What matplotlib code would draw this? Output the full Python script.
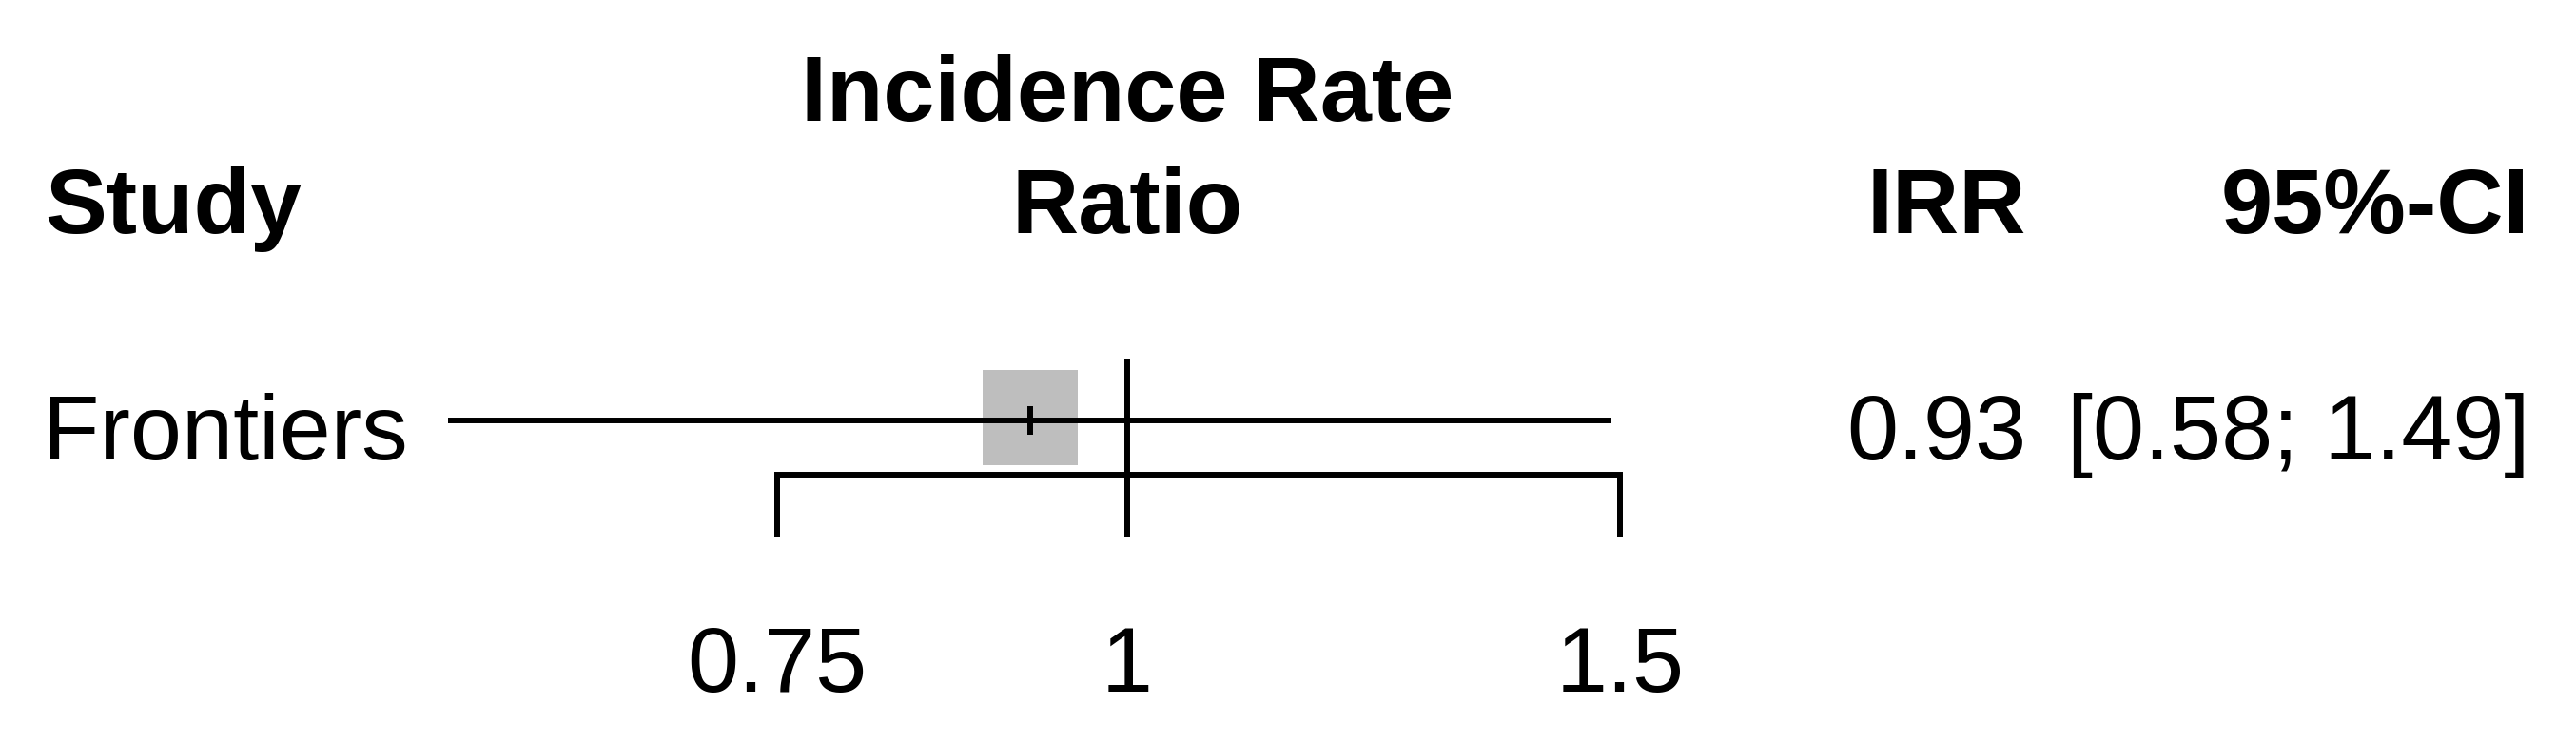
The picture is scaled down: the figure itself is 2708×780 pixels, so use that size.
import numpy as np
import matplotlib
matplotlib.use("Agg")
import matplotlib.pyplot as plt

# donnees
studies = ["Frontiers"]
irr = [0.923]
ci_lower = [0.572]
ci_upper = [1.489]
irr_text = ["0.93"]
ci_text = ["[0.58; 1.49]"]
xticks = [0.75, 1, 1.5]
xtick_labels = ["0.75", "1", "1.5"]

W, H = 2708, 780
fig = plt.figure(figsize=(W / 100, H / 100), dpi=100)
ax = fig.add_axes([0, 0, 1, 1])
ax.set_xscale("log")
px_per_log = 1278
x_ref = 1185
ax.set_xlim(np.exp(-x_ref / px_per_log), np.exp((W - x_ref) / px_per_log))
ax.set_ylim(H, 0)
ax.axis("off")

font = ["Liberation Sans", "DejaVu Sans"]
fs = 70
lw = 4.3
colx = ax.get_yaxis_transform()  # x en fraction, y en donnees

# en-tetes
ax.text(47 / W, 245, "Study", transform=colx, ha="left", va="baseline",
        fontsize=fs, weight="bold", family=font)
ax.text(1, 127, "Incidence Rate", ha="center", va="baseline",
        fontsize=fs, weight="bold", family=font)
ax.text(1, 245, "Ratio", ha="center", va="baseline",
        fontsize=fs, weight="bold", family=font)
ax.text(2130 / W, 245, "IRR", transform=colx, ha="right", va="baseline",
        fontsize=fs, weight="bold", family=font)
ax.text(2659 / W, 245, "95%-CI", transform=colx, ha="right", va="baseline",
        fontsize=fs, weight="bold", family=font)

# etudes
row_y = [442]
for name, m, lo, hi, t1, t2, y in zip(studies, irr, ci_lower, ci_upper,
                                      irr_text, ci_text, row_y):
    ax.plot([m], [y - 3], marker="s", ms=72, mew=0, color="#BEBEBE")
    ax.plot([lo, hi], [y, y], color="black", lw=lw, solid_capstyle="butt")
    ax.plot([m], [y], marker="|", ms=22, mew=lw, color="black")
    ax.text(45 / W, y + 41, name, transform=colx, ha="left", va="baseline",
            fontsize=fs, family=font)
    ax.text(2130 / W, y + 41, t1, transform=colx, ha="right", va="baseline",
            fontsize=fs, family=font)
    ax.text(2659 / W, y + 41, t2, transform=colx, ha="right", va="baseline",
            fontsize=fs, family=font)

# ligne de reference
ax.plot([1, 1], [377, 565], color="black", lw=lw, solid_capstyle="butt")

# axe x
ax.plot([xticks[0], xticks[0], xticks[-1], xticks[-1]], [565, 499, 499, 565],
        color="black", lw=lw, solid_joinstyle="miter", solid_capstyle="butt")
for t, lab in zip(xticks, xtick_labels):
    ax.plot([t, t], [499, 565], color="black", lw=lw, solid_capstyle="butt")
    ax.text(t, 727, lab, ha="center", va="baseline", fontsize=fs, family=font)

fig.savefig("out.png", dpi=100, facecolor="white")
